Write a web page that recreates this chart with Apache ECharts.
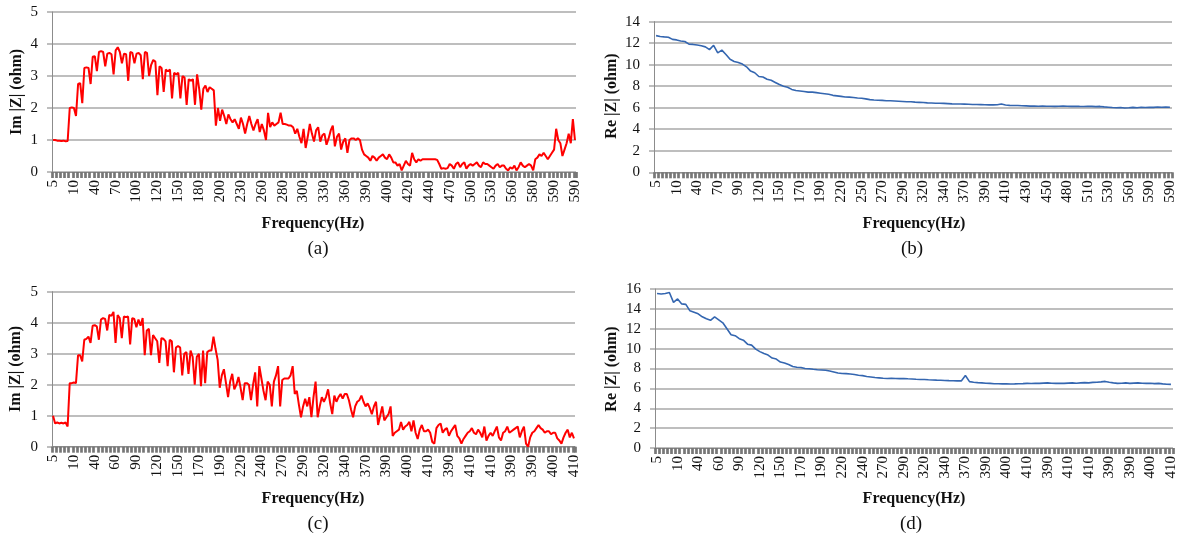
<!DOCTYPE html>
<html>
<head>
<meta charset="utf-8">
<script src="https://cdn.jsdelivr.net/npm/echarts@6/dist/echarts.min.js"></script>
<style>
  html, body { margin: 0; padding: 0; background: #ffffff; }
  #chart { width: 1179px; height: 542px; }
</style>
</head>
<body>
<div id="chart"></div>
<script>
// Category tick labels
const labelsA = ['5','10','40','70','100','120','150','180','200','230','260','280','300','330','360','390','400','420','440','470','500','530','560','580','590','590'];
const labelsB = ['5','10','40','70','90','120','150','170','190','220','250','270','290','320','340','370','390','410','430','450','480','510','530','560','590','590'];
const labelsC = ['5','10','40','60','90','120','150','170','190','220','240','270','290','320','340','370','390','400','410','390','410','410','390','390','400','410'];
const labelsD = ['5','10','40','60','90','120','150','170','190','220','240','270','290','320','340','370','390','400','410','390','410','410','390','390','400','410'];

// (a) Im |Z| (ohm), 251 samples
const imA = [
  1.0, 1.0, 0.98, 0.98, 0.97, 0.98, 0.96, 0.97, 2.0, 2.02,
  2.0, 1.75, 2.75, 2.78, 2.15, 3.25, 3.27, 3.25, 2.75, 3.6,
  3.62, 3.15, 3.75, 3.78, 3.75, 3.3, 3.7, 3.72, 3.68, 3.05,
  3.8, 3.9, 3.75, 3.4, 3.7, 3.68, 2.85, 3.75, 3.72, 3.4,
  3.7, 3.72, 3.65, 2.9, 3.75, 3.72, 3.0, 3.35, 3.5, 3.45,
  2.4, 3.3, 3.25, 2.5, 3.2, 3.15, 3.2, 2.3, 3.1, 3.05,
  3.1, 2.3, 3.0, 2.95, 2.1, 2.9, 2.85, 2.9, 2.1, 3.05,
  2.6, 1.95, 2.6, 2.7, 2.5, 2.65, 2.6, 2.55, 1.45, 2.0,
  1.6, 1.95, 1.75, 1.5, 1.8, 1.65, 1.55, 1.65, 1.5, 1.35,
  1.7, 1.5, 1.2, 1.5, 1.75, 1.5, 1.3, 1.5, 1.65, 1.25,
  1.5, 1.3, 1.0, 1.85, 1.4, 1.55, 1.45, 1.5, 1.55, 1.85,
  1.5, 1.5, 1.48, 1.45, 1.45, 1.4, 1.2, 1.35, 1.1, 0.9,
  1.35, 0.75, 1.1, 1.5, 1.2, 0.95, 1.3, 1.4, 0.95, 1.15,
  1.2, 0.85, 1.05, 1.3, 1.45, 0.8, 1.1, 1.2, 0.7, 0.95,
  1.05, 0.6, 1.0, 1.05, 1.05, 1.0, 1.05, 1.0, 0.7, 0.55,
  0.5, 0.45, 0.35, 0.5, 0.45, 0.35, 0.45, 0.5, 0.55, 0.45,
  0.4, 0.55, 0.45, 0.3, 0.3, 0.2, 0.25, 0.05, 0.2, 0.35,
  0.25, 0.2, 0.6, 0.4, 0.3, 0.4, 0.35, 0.4, 0.4, 0.4,
  0.4, 0.4, 0.4, 0.4, 0.38, 0.25, 0.1, 0.12, 0.1, 0.12,
  0.25, 0.2, 0.1, 0.25, 0.3, 0.15, 0.25, 0.3, 0.1, 0.2,
  0.25, 0.2, 0.25, 0.3, 0.2, 0.15, 0.3, 0.25, 0.25, 0.2,
  0.15, 0.1, 0.2, 0.25, 0.15, 0.2, 0.2, 0.1, 0.05, 0.15,
  0.1, 0.2, 0.05, 0.15, 0.3, 0.2, 0.15, 0.2, 0.25, 0.2,
  0.05, 0.4, 0.45, 0.55, 0.5, 0.6, 0.5, 0.4, 0.5, 0.6,
  0.7, 1.35, 1.0, 0.9, 0.5, 0.7, 0.9, 1.2, 0.9, 1.65,
  1.0
];

// (b) Re |Z| (ohm), 126 samples
const reB = [
  12.7, 12.62, 12.58, 12.55, 12.35, 12.3, 12.2, 12.15, 11.9, 11.88,
  11.82, 11.75, 11.65, 11.4, 11.8, 11.1, 11.35, 10.95, 10.5, 10.3,
  10.2, 10.05, 9.8, 9.4, 9.25, 8.9, 8.85, 8.65, 8.55, 8.35,
  8.15, 8.0, 7.9, 7.7, 7.6, 7.55, 7.5, 7.45, 7.45, 7.4,
  7.35, 7.3, 7.25, 7.15, 7.1, 7.05, 7.0, 6.98, 6.95, 6.9,
  6.88, 6.82, 6.75, 6.72, 6.7, 6.68, 6.65, 6.64, 6.62, 6.6,
  6.58, 6.56, 6.55, 6.52, 6.5, 6.48, 6.45, 6.44, 6.42, 6.41,
  6.4, 6.38, 6.36, 6.35, 6.34, 6.33, 6.32, 6.3, 6.3, 6.29,
  6.27, 6.26, 6.26, 6.28, 6.35, 6.25, 6.22, 6.2, 6.2, 6.18,
  6.17, 6.15, 6.16, 6.14, 6.15, 6.13, 6.14, 6.12, 6.14, 6.15,
  6.13, 6.12, 6.14, 6.12, 6.11, 6.13, 6.12, 6.1, 6.12, 6.08,
  6.05, 6.02, 6.0, 6.02, 5.98, 6.0, 6.03, 6.0, 6.04, 6.02,
  6.05, 6.03, 6.06, 6.04, 6.07, 6.05
];

// (c) Im |Z| (ohm), 251 samples
const imC = [
  1.0, 0.75, 0.78, 0.75, 0.77, 0.75, 0.78, 0.65, 2.05, 2.05,
  2.07, 2.05, 2.95, 2.95, 2.75, 3.45, 3.48, 3.55, 3.35, 3.9,
  3.92, 3.88, 3.45, 4.1, 4.15, 4.12, 3.75, 4.25, 4.22, 4.35,
  3.35, 4.25, 4.15, 3.5, 4.2, 4.18, 4.2, 3.3, 4.15, 4.12,
  3.85, 4.1, 3.9, 4.15, 2.95, 3.75, 3.8, 2.95, 3.6, 3.5,
  3.4, 2.7, 3.5, 3.48, 3.4, 2.6, 3.45, 3.4, 2.4, 3.2,
  3.25, 3.2, 2.3, 3.0, 3.05, 2.35, 3.1, 2.9, 2.0, 2.9,
  3.0, 1.95, 3.1, 2.05, 3.05, 3.1, 3.1, 3.55, 3.15, 2.8,
  1.9, 2.3, 2.5, 2.05, 1.6, 2.1, 2.35, 1.85, 2.0, 2.25,
  1.9, 1.5, 2.05, 2.05, 2.0, 1.5, 2.0, 2.4, 1.3, 2.6,
  2.2, 1.8, 1.5, 2.1, 2.0, 1.3, 2.1, 2.3, 2.6, 1.3,
  2.15, 2.2, 2.2, 2.2, 2.3, 2.6, 1.7, 1.8, 1.35, 0.95,
  1.3, 1.55, 1.3, 1.6, 0.95, 1.6, 2.1, 0.95, 1.3, 1.6,
  1.45, 1.6, 1.85, 1.4, 1.05, 1.65, 1.45, 1.6, 1.7, 1.55,
  1.7, 1.7, 1.5, 1.2, 0.95, 1.3, 1.45, 1.5, 1.65, 1.45,
  1.3, 1.4, 1.25, 1.05, 1.3, 1.45, 0.7, 1.0, 1.3, 0.85,
  0.95, 1.05, 1.3, 0.35, 0.45, 0.5, 0.55, 0.8, 0.55, 0.65,
  0.7, 0.8, 0.5, 0.85, 0.45, 0.25, 0.55, 0.7, 0.5, 0.5,
  0.55, 0.45, 0.15, 0.1, 0.6, 0.7, 0.75, 0.45, 0.55, 0.6,
  0.35, 0.5, 0.6, 0.7, 0.35, 0.27, 0.1, 0.25, 0.35, 0.45,
  0.5, 0.6, 0.45, 0.4, 0.55, 0.45, 0.3, 0.65, 0.2, 0.35,
  0.45, 0.35, 0.5, 0.65, 0.3, 0.2, 0.45, 0.5, 0.65, 0.45,
  0.5, 0.55, 0.6, 0.65, 0.3, 0.5, 0.65, 0.1, 0.0, 0.3,
  0.45, 0.5, 0.6, 0.7, 0.6, 0.55, 0.45, 0.5, 0.5, 0.4,
  0.45, 0.45, 0.27, 0.2, 0.1, 0.3, 0.45, 0.55, 0.3, 0.45,
  0.27
];

// (d) Re |Z| (ohm), 126 samples
const reD = [
  15.55, 15.5, 15.55, 15.65, 14.65, 15.0, 14.5, 14.45, 13.8, 13.65,
  13.5, 13.2, 13.0, 12.85, 13.2, 12.9, 12.6, 12.0, 11.4, 11.3,
  11.0, 10.85, 10.45, 10.35, 9.95, 9.7, 9.5, 9.35, 9.05, 8.95,
  8.65, 8.55, 8.4, 8.2, 8.12, 8.1, 8.0, 7.97, 7.92, 7.88,
  7.85, 7.82, 7.75, 7.65, 7.55, 7.5, 7.48, 7.45, 7.4, 7.32,
  7.28, 7.2, 7.15, 7.1, 7.06, 7.02, 7.0, 7.02, 7.0, 6.98,
  7.0, 6.97, 6.95, 6.92, 6.9, 6.9, 6.87, 6.85, 6.83, 6.82,
  6.8, 6.78, 6.77, 6.75, 6.75, 7.3, 6.68, 6.62, 6.58, 6.55,
  6.52, 6.5, 6.47, 6.46, 6.45, 6.46, 6.44, 6.45, 6.47, 6.48,
  6.5, 6.49, 6.52, 6.5, 6.53, 6.55, 6.52, 6.5, 6.52, 6.5,
  6.53, 6.55, 6.52, 6.55, 6.58, 6.55, 6.6, 6.62, 6.65, 6.7,
  6.62, 6.55, 6.5, 6.52, 6.55, 6.5, 6.53, 6.55, 6.52, 6.5,
  6.52, 6.48, 6.5, 6.45, 6.42, 6.4
];

const FONT = "'Liberation Serif', 'Times New Roman', serif";
const GRID_COLOR = '#a9a9a9';
const AXIS_COLOR = '#8c8c8c';

// Spread the tick labels over the samples: one label every `step` samples
function categories(labels, n, step) {
  const out = [];
  for (let i = 0; i < n; i++) out.push(i % step === 0 ? labels[i / step] : '');
  return out;
}

const panels = [
  { grid: { left: 52, top: 12, width: 524, height: 160 }, data: imA, labels: labelsA, step: 10, max: 5, yStep: 1, color: '#ff0000', lw: 2 },
  { grid: { left: 654, top: 21.6, width: 518, height: 150.7 }, data: reB, labels: labelsB, step: 5, max: 14, yStep: 2, color: '#3466b0', lw: 1.6 },
  { grid: { left: 52, top: 291.7, width: 523, height: 155 }, data: imC, labels: labelsC, step: 10, max: 5, yStep: 1, color: '#ff0000', lw: 2 },
  { grid: { left: 655, top: 289, width: 518, height: 159 }, data: reD, labels: labelsD, step: 5, max: 16, yStep: 2, color: '#3466b0', lw: 1.6 }
];

function title(text, x, y, rotate, size, bold) {
  return {
    type: 'text', x: x, y: y, rotation: rotate ? Math.PI / 2 : 0,
    style: { text: text, font: (bold ? 'bold ' : '') + size + 'px ' + FONT, fill: '#111', align: 'center', verticalAlign: 'middle' }
  };
}

const option = {
  backgroundColor: '#ffffff',
  animation: false,
  grid: panels.map(p => Object.assign({ containLabel: false }, p.grid)),
  xAxis: panels.map((p, k) => ({
    type: 'category',
    gridIndex: k,
    boundaryGap: true,
    data: categories(p.labels, p.data.length, p.step),
    axisLine: { show: true, lineStyle: { color: AXIS_COLOR, width: 1 } },
    axisTick: { show: true, interval: p.step === 10 ? 1 : 0, length: 6, lineStyle: { color: '#777777', width: 2.7 } },
    axisLabel: {
      interval: (i) => i % p.step === 0,
      rotate: 90,
      margin: 8,
      fontFamily: FONT,
      fontSize: 15,
      color: '#111111'
    },
    splitLine: { show: false }
  })),
  yAxis: panels.map((p, k) => ({
    type: 'value',
    gridIndex: k,
    min: 0,
    max: p.max,
    interval: p.yStep,
    axisLine: { show: true, lineStyle: { color: AXIS_COLOR, width: 1 } },
    axisTick: { show: true, length: 5, lineStyle: { color: GRID_COLOR, width: 1.5 } },
    axisLabel: { margin: 14, fontFamily: FONT, fontSize: 15, color: '#111111' },
    splitLine: { show: true, lineStyle: { color: GRID_COLOR, width: 1.5 } }
  })),
  series: panels.map((p, k) => ({
    type: 'line',
    xAxisIndex: k,
    yAxisIndex: k,
    data: p.data,
    showSymbol: false,
    symbol: 'none',
    lineStyle: { color: p.color, width: p.lw },
    z: 3
  })),
  graphic: [
    title('Im |Z| (ohm)', 17, 92, true, 16, true),
    title('Re |Z| (ohm)', 612, 96, true, 16, true),
    title('Im |Z| (ohm)', 16, 369, true, 16, true),
    title('Re |Z| (ohm)', 612, 369, true, 16, true),
    title('Frequency(Hz)', 313, 224, false, 16, true),
    title('Frequency(Hz)', 914, 224, false, 16, true),
    title('Frequency(Hz)', 313, 499, false, 16, true),
    title('Frequency(Hz)', 914, 499, false, 16, true),
    title('(a)', 318, 249, false, 19, false),
    title('(b)', 912, 249, false, 19, false),
    title('(c)', 318, 524, false, 19, false),
    title('(d)', 911, 524, false, 19, false)
  ]
};

const chart = echarts.init(document.getElementById('chart'), null, { renderer: 'canvas' });
chart.setOption(option);
</script>
</body>
</html>
